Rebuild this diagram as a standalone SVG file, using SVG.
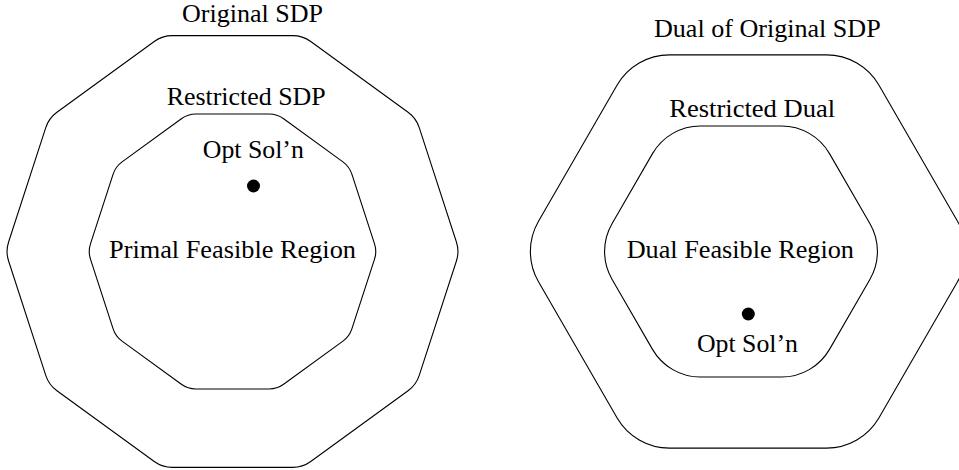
<svg xmlns="http://www.w3.org/2000/svg" width="959" height="470" viewBox="0 0 959 470">
<style>
.region{fill:none;stroke:#000;stroke-width:1.1}
.lbl{font-family:"Liberation Serif","Times New Roman",serif;font-size:26px;fill:#000;text-anchor:middle}
.dot{fill:#000}
</style>
<rect width="959" height="470" fill="#fff"/>
<g id="original-sdp">
<path class="region" d="M 456.41,241.99 L 419.24,127.58 Q 416.15,118.07 408.06,112.19 L 310.74,41.49 Q 302.65,35.61 292.65,35.61 L 172.35,35.61 Q 162.35,35.61 154.26,41.49 L 56.94,112.19 Q 48.85,118.07 45.76,127.58 L 8.59,241.99 Q 5.5,251.5 8.59,261.01 L 45.76,375.42 Q 48.85,384.93 56.94,390.81 L 154.26,461.51 Q 162.35,467.39 172.35,467.39 L 292.65,467.39 Q 302.65,467.39 310.74,461.51 L 408.06,390.81 Q 416.15,384.93 419.24,375.42 L 456.41,261.01 Q 459.5,251.5 456.41,241.99 Z"/>
<text class="lbl" x="252.5" y="21.5" textLength="141" lengthAdjust="spacingAndGlyphs">Original SDP</text>
</g>
<g id="restricted-sdp">
<path class="region" d="M 374.53,243.89 L 351.87,174.17 Q 349.40,166.56 342.93,161.86 L 283.62,118.77 Q 277.15,114.07 269.15,114.07 L 195.85,114.07 Q 187.85,114.07 181.38,118.77 L 122.07,161.86 Q 115.60,166.56 113.13,174.17 L 90.47,243.89 Q 88,251.5 90.47,259.11 L 113.13,328.83 Q 115.60,336.44 122.07,341.14 L 181.38,384.23 Q 187.85,388.93 195.85,388.93 L 269.15,388.93 Q 277.15,388.93 283.62,384.23 L 342.93,341.14 Q 349.40,336.44 351.87,328.83 L 374.53,259.11 Q 377,251.5 374.53,243.89 Z"/>
<text class="lbl" x="246.2" y="104.8" textLength="159" lengthAdjust="spacingAndGlyphs">Restricted SDP</text>
<text class="lbl" x="232.5" y="258" textLength="247" lengthAdjust="spacingAndGlyphs">Primal Feasible Region</text>
</g>
<g id="primal-opt">
<circle class="dot" cx="253.5" cy="186" r="6.5"/>
<text class="lbl" x="253.3" y="158.3" textLength="101" lengthAdjust="spacingAndGlyphs">Opt Sol’n</text>
</g>
<g id="dual-original">
<path class="region" d="M 957.5,221.19 L 879,85.22 A 60.62 60.62 0 0 0 826.5,54.91 L 669.5,54.91 A 60.62 60.62 0 0 0 617,85.22 L 538.5,221.19 A 60.62 60.62 0 0 0 538.5,281.81 L 617,417.78 A 60.62 60.62 0 0 0 669.5,448.09 L 826.5,448.09 A 60.62 60.62 0 0 0 879,417.78 L 957.5,281.81 A 60.62 60.62 0 0 0 957.5,221.19 Z"/>
<text class="lbl" x="767.3" y="36.7" textLength="226.7" lengthAdjust="spacingAndGlyphs">Dual of Original SDP</text>
</g>
<g id="restricted-dual">
<path class="region" d="M 870,223.79 L 829.5,153.64 A 55.43 55.43 0 0 0 781.5,125.93 L 700.5,125.93 A 55.43 55.43 0 0 0 652.5,153.64 L 612,223.79 A 55.43 55.43 0 0 0 612,279.21 L 652.5,349.36 A 55.43 55.43 0 0 0 700.5,377.07 L 781.5,377.07 A 55.43 55.43 0 0 0 829.5,349.36 L 870,279.21 A 55.43 55.43 0 0 0 870,223.79 Z"/>
<text class="lbl" x="752.2" y="116.7" textLength="165.7" lengthAdjust="spacingAndGlyphs">Restricted Dual</text>
<text class="lbl" x="740.3" y="258" textLength="227.3" lengthAdjust="spacingAndGlyphs">Dual Feasible Region</text>
</g>
<g id="dual-opt">
<circle class="dot" cx="748.3" cy="314" r="6.5"/>
<text class="lbl" x="747.5" y="352.3" textLength="101" lengthAdjust="spacingAndGlyphs">Opt Sol’n</text>
</g>
<g id="connectors"/>
</svg>
